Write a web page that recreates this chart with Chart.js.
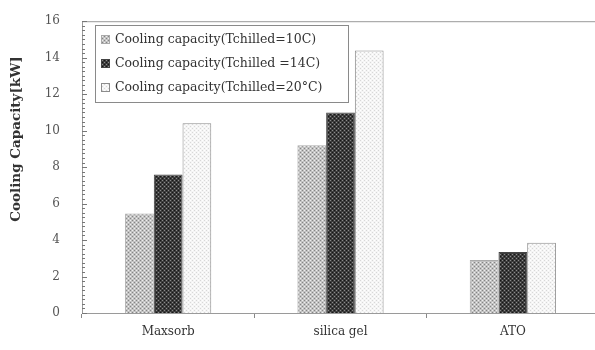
<!DOCTYPE html>
<html>
<head>
<meta charset="utf-8">
<script src="https://cdn.jsdelivr.net/npm/chart.js@4"></script>
<style>
  html, body { margin: 0; padding: 0; background: #fff; overflow: hidden; }
  #wrap { width: 600px; height: 350px; }
</style>
</head>
<body>
<div id="wrap"><canvas id="myChart" width="600" height="350"></canvas></div>
<script>
// data
const categories = ['Maxsorb', 'silica gel', 'ATO']
const seriesNames = [
    'Cooling capacity(Tchilled=10C)',
    'Cooling capacity(Tchilled =14C)',
    'Cooling capacity(Tchilled=20°C)'
]
const cap10 = [5.45, 9.2, 2.9]
const cap14 = [7.6, 11.0, 3.35]
const cap20 = [10.4, 14.4, 3.85]
const yTickLabels = [0, 2, 4, 6, 8, 10, 12, 14, 16]
const yTitle = 'Cooling Capacity[kW]'

const serif = 'DejaVu Serif'

// small dotted fill patterns like the printed hatching
function makePattern(base, dark, light) {
    const c = document.createElement('canvas')
    c.width = 4
    c.height = 4
    const g = c.getContext('2d')
    g.fillStyle = base
    g.fillRect(0, 0, 4, 4)
    g.fillStyle = dark
    g.fillRect(0, 0, 1, 1)
    g.fillRect(2, 2, 1, 1)
    g.fillStyle = light
    g.fillRect(2, 0, 1, 1)
    g.fillRect(0, 2, 1, 1)
    return c.getContext('2d').createPattern(c, 'repeat')
}
const ctx = document.getElementById('myChart').getContext('2d')
const fills = [
    makePattern('#c2c2c2', '#858585', '#eeeeee'),
    makePattern('#3c3c3c', '#151515', '#8a8a8a'),
    makePattern('#f5f5f5', '#d8d8d8', '#ffffff')
]
const borders = ['#aaaaaa', '#444444', '#8c8c8c']

// frame round the plot, inward minor ticks on y, y title and the boxed legend
const extras = {
    id: 'extras',
    afterDraw(chart) {
        const c = chart.ctx
        const a = chart.chartArea
        const y = chart.scales.y
        c.save()
        c.strokeStyle = '#9a9a9a'
        c.lineWidth = 1
        c.strokeRect(a.left + 0.5, a.top + 0.5, a.right - a.left, a.bottom - a.top)
        c.strokeStyle = '#777'
        y.ticks.forEach(t => {
            const py = Math.round(y.getPixelForValue(t.value)) + 0.5
            const len = t.value % 2 === 0 ? 5 : 3
            c.beginPath()
            c.moveTo(a.left, py)
            c.lineTo(a.left + len, py)
            c.stroke()
        })
        // y title
        c.save()
        c.translate(16, 139)
        c.rotate(-Math.PI / 2)
        c.font = 'bold 13.5px "' + serif + '"'
        c.textAlign = 'center'
        c.textBaseline = 'middle'
        c.fillStyle = '#333'
        c.fillText(yTitle, 0, 0)
        c.restore()
        // legend
        const bx = 95, by = 25, bw = 253, bh = 77
        c.strokeStyle = '#8a8a8a'
        c.strokeRect(bx + 0.5, by + 0.5, bw, bh)
        c.font = '12.5px "' + serif + '"'
        c.textBaseline = 'middle'
        chart.data.datasets.forEach((ds, i) => {
            const cy = by + 14 + i * 24
            c.fillStyle = ds.backgroundColor
            c.fillRect(bx + 6, cy - 4, 9, 9)
            c.strokeStyle = ds.borderColor
            c.strokeRect(bx + 6.5, cy - 3.5, 8, 8)
            c.fillStyle = '#333'
            c.fillText(ds.label, bx + 20, cy + 1)
        })
        c.restore()
    }
}

const yTicks = []
for (let v = 0; v <= 16; v += 0.25) yTicks.push(v)

const myChart = new Chart(ctx, {
    type: 'bar',
    data: {
        labels: categories,
        datasets: [cap10, cap14, cap20].map((d, i) => ({
            label: seriesNames[i],
            data: d,
            backgroundColor: fills[i],
            borderColor: borders[i],
            borderWidth: 1,
            categoryPercentage: 0.5,
            barPercentage: 1.0
        }))
    },
    options: {
        responsive: false,
        animation: false,
        layout: { padding: { top: 15, right: 1, left: 0, bottom: 0 } },
        plugins: {
            legend: { display: false },
            tooltip: { enabled: false }
        },
        scales: {
            x: {
                afterFit: s => { s.height = 37 },
                grid: { drawOnChartArea: false, offset: true, tickLength: 5, color: '#888' },
                border: { display: true, color: '#9a9a9a' },
                ticks: { color: '#333', font: { family: serif, size: 12 }, padding: 7 }
            },
            y: {
                min: 0,
                max: 16,
                afterFit: s => { s.width = 82 },
                afterBuildTicks: s => { s.ticks = yTicks.map(v => ({ value: v })) },
                grid: { display: false },
                border: { display: true, color: '#9a9a9a' },
                ticks: {
                    autoSkip: false,
                    color: '#555',
                    font: { family: serif, size: 12 },
                    padding: 14,
                    callback: v => yTickLabels.includes(v) ? String(v) : ''
                }
            }
        }
    },
    plugins: [extras]
})
</script>
</body>
</html>
